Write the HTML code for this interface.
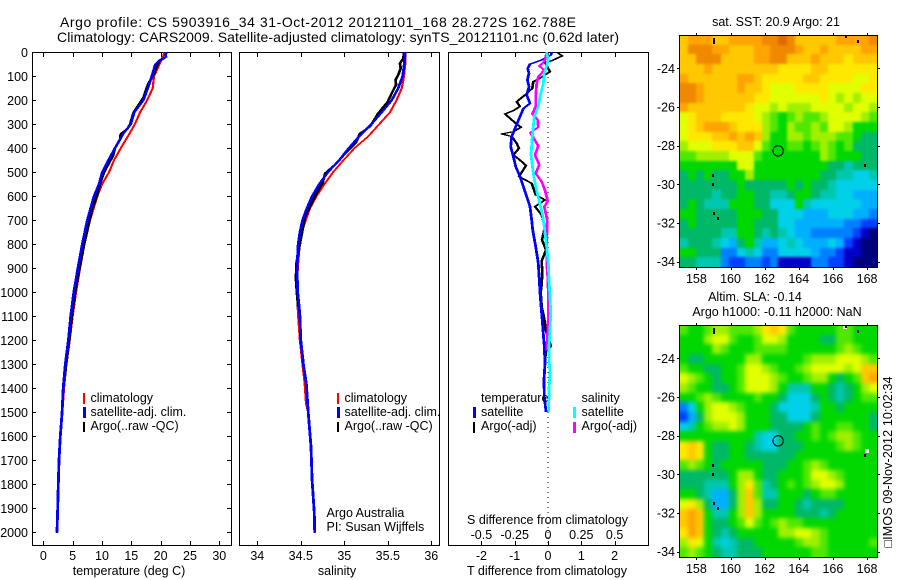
<!DOCTYPE html>
<html lang="en">
<head>
<meta charset="utf-8">
<title>Argo profile CS 5903916_34</title>
<style>
html,body{margin:0;padding:0;background:#fff;}
svg{display:block;font-family:"Liberation Sans",sans-serif;font-size:12.5px;fill:#000;}
</style>
</head>
<body>
<svg id="chart" width="900" height="580" viewBox="0 0 900 580" xmlns="http://www.w3.org/2000/svg">
  <rect x="0" y="0" width="900" height="580" fill="#fff"/>
  <defs>
    <clipPath id="clip-sst"><rect x="679" y="35" width="198" height="232"/></clipPath>
    <clipPath id="clip-sla"><rect x="679" y="325" width="198" height="232"/></clipPath>
    <filter id="soft-sst" x="-10%" y="-10%" width="120%" height="120%" color-interpolation-filters="sRGB"><feGaussianBlur stdDeviation="1.2"/></filter>
    <filter id="soft-sla" x="-10%" y="-10%" width="120%" height="120%" color-interpolation-filters="sRGB"><feGaussianBlur stdDeviation="2.2"/></filter>
  </defs>
  <text x="60" y="27" font-size="14" textLength="516" lengthAdjust="spacing">Argo profile: CS 5903916_34 31-Oct-2012 20121101_168 28.272S 162.788E</text>
  <text x="57" y="42" font-size="14" textLength="562" lengthAdjust="spacing">Climatology: CARS2009. Satellite-adjusted climatology: synTS_20121101.nc (0.62d later)</text>

  <g id="marks"></g>

  <text x="129" y="575" text-anchor="middle">temperature (deg C)</text>
  <text x="337" y="575" text-anchor="middle">salinity</text>
  <text x="547.5" y="524" text-anchor="middle">S difference from climatology</text>
  <text x="547" y="575" text-anchor="middle">T difference from climatology</text>

  <g>
    <rect x="83" y="393" width="2" height="11" fill="#f00"/>
    <rect x="83" y="407" width="3" height="11" fill="#00f"/>
    <rect x="83" y="422" width="2" height="10" fill="#000"/>
    <text x="90.5" y="402">climatology</text>
    <text x="90.5" y="416">satellite-adj. clim.</text>
    <text x="90.5" y="430">Argo(..raw -QC)</text>
  </g>
  <g>
    <rect x="337" y="393" width="2" height="11" fill="#f00"/>
    <rect x="337" y="407" width="3" height="11" fill="#00f"/>
    <rect x="337" y="422" width="2" height="10" fill="#000"/>
    <text x="344.5" y="402">climatology</text>
    <text x="344.5" y="416">satellite-adj. clim.</text>
    <text x="344.5" y="430">Argo(..raw -QC)</text>
    <text x="326.5" y="517">Argo Australia</text>
    <text x="326.5" y="531">PI: Susan Wijffels</text>
  </g>
  <g>
    <text x="481" y="402">temperature</text>
    <text x="581.5" y="402">salinity</text>
    <rect x="473" y="407" width="3" height="11" fill="#00f"/>
    <rect x="473" y="422" width="2" height="11" fill="#000"/>
    <rect x="573" y="407" width="3" height="11" fill="#0ff"/>
    <rect x="573" y="422" width="3" height="11" fill="#f0f"/>
    <text x="481" y="416">satellite</text>
    <text x="481" y="430">Argo(-adj)</text>
    <text x="581.5" y="416">satellite</text>
    <text x="581.5" y="430">Argo(-adj)</text>
  </g>

  <text x="776" y="26" text-anchor="middle">sat. SST: 20.9 Argo: 21</text>
  <text x="755" y="301" text-anchor="middle">Altim. SLA: -0.14</text>
  <text x="777" y="316" text-anchor="middle">Argo h1000: -0.11 h2000: NaN</text>
  <text transform="translate(892,547.5) rotate(-90)" textLength="171" lengthAdjust="spacing">□IMOS 09-Nov-2012 10:02:34</text>
</svg>
<script>
// ---------- chart data ----------
const depthTicks = [0,100,200,300,400,500,600,700,800,900,1000,1100,1200,1300,1400,1500,1600,1700,1800,1900,2000];
const tempTicks = [0,5,10,15,20,25,30];
const salinityTicks = [34,34.5,35,35.5,36];
const salinityTickLabels = ['34','34.5','35','35.5','36'];
const tDiffTicks = [-2,-1,0,1,2];
const tDiffTickLabels = ['-2','-1','0','1','2'];
const sDiffTicks = [-0.5,-0.25,0,0.25,0.5];
const sDiffTickLabels = ['-0.5','-0.25','0','0.25','0.5'];
const lonTicks = [158,160,162,164,166,168];
const latTicks = [-24,-26,-28,-30,-32,-34];

const tempClimDepth = [0,50,100,150,200,250,300,340,400,450,500,550,600,700,800,900,1000,1100,1200,1300,1400,1500,1600,1700,1800,1900,2000];
const tempClimValue = [20.7,19.8,18.87,18.65,17.7,16.5,15.6,14.66,13.2,12.05,11.2,10.0,9.2,7.96,7.0,6.25,5.57,5.0,4.5,3.93,3.53,3.24,2.92,2.7,2.56,2.45,2.33];
const tempSatDepth = [0,20,30,50,100,150,200,250,300,340,400,450,500,550,600,700,800,900,1000,1100,1200,1300,1400,1500,1600,1700,1800,1900,2000];
const tempSatValue = [20.91,20.85,20.0,19.1,18.5,17.8,17.05,15.5,14.9,13.6,12.2,11.1,10.05,9.5,8.65,7.5,6.65,5.9,5.2,4.67,4.27,3.75,3.4,3.2,2.9,2.68,2.56,2.45,2.33];
const tempArgoDepth = [0,20,40,100,130,190,210,250,300,320,340,360,400,430,500,550,600,650,700,800,900,1000,1100,1200,1300,1350];
const tempArgoValue = [20.85,20.9,19.65,18.65,17.9,17.05,16.5,15.4,14.8,14.3,13.2,13.15,12.2,11.9,10.35,9.65,9.1,8.35,7.85,6.95,6.15,5.4,4.85,4.4,3.87,3.65];

const salClimDepth = [0,50,100,150,200,250,300,350,400,450,500,550,600,650,700,750,800,900,1000,1060,1100,1200,1300,1379,1462,1500];
const salClimValue = [35.70,35.70,35.686,35.66,35.60,35.525,35.40,35.276,35.115,34.99,34.87,34.77,34.68,34.606,34.556,34.51,34.487,34.464,34.46,34.464,34.47,34.49,34.52,34.545,34.56,34.585];
const salSatDepth = [0,50,100,150,200,250,300,350,400,450,500,550,600,650,700,750,800,900,1000,1060,1100,1200,1300,1379,1504,1643,1782,1921,2000];
const salSatValue = [35.70,35.69,35.67,35.62,35.545,35.43,35.31,35.17,35.05,34.94,34.81,34.71,34.63,34.57,34.52,34.49,34.47,34.456,34.464,34.48,34.49,34.50,34.53,34.563,34.586,34.617,34.63,34.655,34.66];
const salArgoDepth = [0,25,46,67,94,115,136,171,206,254,310,338,379,421,463,504,546,588,629,685,740,810,879,942,1004,1060];
const salArgoValue = [35.69,35.678,35.64,35.648,35.62,35.59,35.594,35.545,35.5,35.39,35.295,35.18,35.13,35.01,34.91,34.78,34.75,34.68,34.625,34.55,34.52,34.483,34.45,34.445,34.456,34.47];

const dTSatDepth = [0,11,32,49,67,88,115,143,178,213,234,268,310,351,393,435,476,518,560,601,643,699,740,810,879,949,1018,1088,1157,1226,1296,1365,1435,1497];
const dTSatValue = [0.11,0.09,-0.19,-0.54,-0.61,-0.57,-0.62,-0.57,-0.64,-0.54,-0.74,-0.84,-0.97,-1.09,-1.12,-1.04,-0.97,-0.84,-0.74,-0.64,-0.54,-0.49,-0.46,-0.37,-0.29,-0.26,-0.23,-0.19,-0.15,-0.11,-0.09,-0.12,-0.11,-0.06];
const dTArgoDepth = [4,15,35,43,81,108,122,150,178,206,226,243,257,275,296,312,331,340,351,379,400,428,449,472,518,546,594,615,643,678,726,782,823,870,918,967,1000,1060,1109,1157,1226,1246,1300];
const dTArgoValue = [0.31,0.43,0.11,-0.09,0.06,-0.24,-0.44,-0.47,-0.69,-0.94,-0.84,-1.04,-1.29,-1.14,-0.97,-0.81,-1.04,-1.39,-1.09,-0.94,-0.87,-1.04,-0.84,-0.66,-0.87,-0.49,-0.37,-0.09,-0.39,-0.19,-0.09,-0.18,-0.06,-0.19,-0.17,-0.19,-0.22,-0.19,-0.11,-0.07,0.09,-0.07,-0.09];
const dSArgoDepth = [4,39,57,74,102,129,185,226,257,282,312,335,390,428,469,504,539,574,619,644,699,782,879,949,1018,1100,1143,1240];
const dSArgoValue = [-0.01,-0.0275,-0.065,-0.0275,-0.0725,-0.085,-0.0925,-0.0925,-0.1175,-0.0775,-0.0725,-0.1325,-0.0725,-0.0975,-0.065,-0.0925,-0.0475,-0.0225,-0.0025,-0.0275,-0.005,-0.01,-0.01,0,0.0025,0.002,0,-0.01];
const dSSatDepth = [0,32,88,129,185,226,268,351,428,504,560,622,671,726,782,810,879,949,1018,1088,1157,1226,1296,1338,1407,1497];
const dSSatValue = [-0.01,0.0025,-0.0275,-0.035,-0.06,-0.0725,-0.1025,-0.1175,-0.1275,-0.11,-0.0925,-0.065,-0.0425,-0.0275,-0.0175,-0.01,0.0025,0.0075,0.015,0.02,0.015,0.0075,0.01,0.015,0.0075,0.005];

// map values are colour-bar levels (0 = navy ... 16 = deep orange)
const sstLevels = [
[13,14,14,14,13,13,14,14,14,14,15,15,16,15,13,13,13,13,13,14,14,14,14,15],
[13,15,15,15,14,14,13,13,13,14,14,15,15,15,14,13,13,14,13,13,13,13,14,14],
[13,13,15,15,15,13,13,13,13,14,14,15,15,13,13,13,14,13,13,13,12,13,13,13],
[13,13,13,14,13,13,13,13,13,13,13,13,12,12,12,12,13,13,12,12,12,12,12,12],
[14,13,13,13,13,13,13,14,14,13,12,12,12,12,12,13,13,12,12,12,12,11,11,12],
[15,15,14,13,13,13,13,14,13,13,12,11,11,11,12,12,12,12,11,11,11,11,12,12],
[15,15,14,13,13,13,13,13,13,12,12,11,11,11,11,11,11,12,11,10,11,10,11,11],
[14,13,13,13,13,13,13,13,12,11,11,10,11,10,10,10,11,11,11,11,10,11,11,10],
[11,12,13,13,13,12,12,12,12,11,10,9,8,9,10,9,9,10,11,11,11,11,10,9],
[11,12,13,14,14,14,13,12,12,12,10,9,8,10,9,9,10,9,11,11,10,8,8,8],
[11,12,12,12,13,13,14,13,14,13,10,8,8,10,10,9,10,10,10,9,9,8,7,7],
[10,11,11,11,12,12,12,13,13,11,9,8,8,9,9,8,9,10,9,8,9,7,7,7],
[9,9,10,10,10,10,11,11,11,9,8,8,8,8,8,8,8,10,9,8,8,8,7,7],
[8,8,8,8,8,8,8,11,11,8,8,8,8,8,8,8,8,8,7,7,6,7,7,7],
[7,8,7,8,7,7,8,8,10,8,8,8,8,8,8,8,8,7,7,6,6,5,5,6],
[7,7,7,7,7,7,7,8,7,7,7,7,7,8,7,8,7,7,6,5,5,5,5,5],
[7,7,7,7,6,7,7,8,8,7,7,6,6,7,8,8,7,6,6,5,5,4,4,4],
[7,8,7,6,6,6,8,8,8,7,7,5,5,5,8,6,5,5,5,5,5,5,4,4],
[8,8,7,7,7,7,7,8,8,8,7,7,5,5,5,4,4,4,5,5,5,4,4,3],
[7,8,7,7,7,7,7,8,8,7,7,7,5,5,4,4,4,4,4,4,3,3,2,2],
[7,7,7,7,7,6,6,8,8,7,6,7,6,5,4,4,3,3,3,3,3,2,1,0],
[6,7,7,7,6,5,4,7,8,6,4,4,5,6,5,4,4,4,5,4,2,1,0,0],
[8,8,7,7,7,3,3,5,6,5,3,3,5,5,5,5,4,3,3,2,1,1,0,0],
[7,7,6,6,6,3,2,2,3,3,2,3,1,1,1,1,3,3,2,2,1,0,0,0]
];
const slaLevels = [
[9,8,8,9,10,10,9,9,9,10,12,13,12,9,8,8,8,8,8,9,9,8,8,8],
[8,8,8,10,11,11,9,8,8,9,11,11,10,8,8,8,8,7,7,9,9,8,8,8],
[8,8,8,8,10,9,8,8,8,9,9,9,9,8,8,8,8,8,8,9,10,9,8,8],
[8,7,7,8,8,8,8,8,10,10,8,8,8,8,8,9,10,10,10,11,11,11,10,9],
[9,8,8,7,7,8,8,9,11,11,10,9,8,8,9,10,11,11,11,11,10,11,13,13],
[11,10,9,8,7,8,8,9,11,11,11,10,9,8,8,9,10,10,8,7,8,9,13,14],
[10,9,8,8,7,7,8,9,11,11,11,10,8,6,6,6,8,8,7,6,7,8,10,11],
[8,8,9,10,9,8,8,8,8,9,8,8,7,5,5,5,7,8,7,6,7,8,9,9],
[3,5,8,10,11,11,10,9,8,8,8,7,5,5,5,5,6,8,8,7,8,8,8,8],
[2,4,7,10,11,11,11,10,8,8,8,7,7,5,5,5,7,8,8,8,8,8,8,7],
[5,6,8,9,10,10,11,10,8,8,8,7,7,7,7,8,9,8,8,9,9,8,8,7],
[8,8,8,8,8,8,8,8,8,6,5,5,7,7,8,8,9,8,9,10,10,9,8,8],
[12,13,12,8,7,7,8,8,7,6,5,5,7,7,7,8,8,8,8,9,10,9,8,8],
[12,13,12,8,7,7,8,8,7,7,7,7,7,7,8,8,8,8,8,8,8,8,8,8],
[9,10,9,8,7,8,8,8,8,8,7,7,7,8,8,9,10,9,8,8,8,8,8,8],
[7,7,7,7,7,7,8,10,10,8,7,7,8,8,8,9,11,11,10,9,8,8,8,8],
[7,7,7,6,6,6,8,10,12,9,6,7,8,9,8,9,10,11,11,10,8,8,8,8],
[8,8,7,6,4,4,7,10,13,9,6,6,8,8,8,7,8,9,9,8,8,8,8,8],
[11,12,10,7,4,4,7,10,13,10,7,7,8,8,7,6,7,7,7,7,8,8,8,8],
[13,14,13,8,6,6,8,10,13,10,8,8,8,8,7,7,7,6,7,8,8,8,8,8],
[13,14,13,8,7,7,8,9,11,9,8,9,10,9,9,8,8,8,8,8,8,8,8,8],
[12,14,13,8,7,6,7,8,8,8,8,8,10,10,11,11,10,9,8,8,8,8,8,8],
[10,12,11,8,6,5,6,7,7,8,8,8,8,8,9,10,10,9,8,8,8,8,8,9],
[9,10,9,8,7,6,6,7,7,7,8,8,8,8,8,8,9,9,8,8,8,8,8,8]
];
const islandLon = [159.03,166.55,166.75,166.95,167.45,167.9,159.0,159.0,159.03,159.25];
const islandLat = [-22.55,-22.3,-22.38,-22.3,-22.65,-29.05,-29.55,-30.05,-31.55,-31.8];
const missingLon = [166.72,167.98];
const missingLat = [-22.4,-28.8];
const floatLon = 162.788;
const floatLat = -28.272;

// ---------- colour bar ----------
const colourBar = ['#00007f','#0000c8','#0040ff','#0080ff','#00b0ff','#00d0e8','#00c8b0','#00b868','#00d800','#50e800','#a0f000','#e0ff00','#ffe800','#ffc800','#ffa400','#f08800','#e06800'];

// ---------- axis functions ----------
const depthY = d => 52.3 + 0.24 * d;
const tempX = t => 43.3 + 5.867 * t;
const salX = s => 257.3 + 87 * (s - 34);
const dTX = v => 548 + 33.3 * v;
const dSX = v => 548 + 133.2 * v;
const lonX = lon => 679.3 + (lon - 157) * (198 / 11.6);
const latY = (lat, top) => top + (-22.28 - lat) * (232 / 12);

const NS = 'http://www.w3.org/2000/svg';
const root = document.getElementById('marks');
function make(tag, attrs, parent) {
  const n = document.createElementNS(NS, tag);
  for (const k in attrs) n.setAttribute(k, attrs[k]);
  (parent || root).appendChild(n);
  return n;
}
function addLabel(txt, x, y, anchor, parent, name) {
  const el = make('text', {x: x, y: y, 'text-anchor': anchor}, parent);
  el.textContent = txt;
  
  
  return el;
}
function addTick(x1, y1, x2, y2, parent) {
  const el = make('line', {x1: x1, y1: y1, x2: x2, y2: y2, stroke: '#000', 'stroke-width': 1, 'shape-rendering': 'crispEdges'}, parent);
  
  
}
// The source plot draws with a pen wider than it is tall: steep runs look thick, slanted runs thin.
function addProfile(depths, values, xFn, colour, penWidth, name, parent) {
  const left = depths.map((d, i) => (xFn(values[i]) - penWidth / 2).toFixed(1) + ',' + depthY(d).toFixed(1));
  const right = depths.map((d, i) => (xFn(values[i]) + penWidth / 2).toFixed(1) + ',' + depthY(d).toFixed(1)).reverse();
  const el = make('polygon', {points: left.concat(right).join(' '), fill: colour, stroke: colour, 'stroke-width': 1, 'stroke-linejoin': 'round', 'shape-rendering': 'crispEdges'}, parent);
  
  
}
function addFrame(x, y, w, h, name, parent) {
  const el = make('rect', {x: x + 0.5, y: y + 0.5, width: w, height: h, fill: 'none', stroke: '#000', 'stroke-width': 1, 'shape-rendering': 'crispEdges'}, parent);
  
  
}
function addPanel(name, left, right, xTicks, xFn, xLabels, yTicksOn) {
  const g = make('g', {});
  
  
  addFrame(left, 52, right - left, 493, name + '-frame', g);
  xTicks.forEach((t, i) => {
    const x = Math.round(xFn(t)) + 0.5;
    addTick(x, 52, x, 57, g);
    addTick(x, 541, x, 545, g);
    addLabel(xLabels[i], xFn(t), 560, 'middle', g, name + '-x-tick-label');
  });
  if (yTicksOn) {
    depthTicks.forEach(d => {
      const y = Math.round(depthY(d)) + 0.5;
      addTick(left, y, left + 4, y, g);
      addTick(right - 4, y, right, y, g);
      addLabel(String(d), left - 4, depthY(d) + 4.5, 'end', g, 'depth-tick-label');
    });
  }
  return g;
}

// ---------- profile panels ----------
const tempPanel = addPanel('temperature-panel', 32, 231, tempTicks, tempX, tempTicks.map(String), true);
addProfile(tempClimDepth, tempClimValue, tempX, '#f00', 1.2, 'temperature-climatology-line', tempPanel);
addProfile(tempArgoDepth, tempArgoValue, tempX, '#000', 1.8, 'temperature-argo-line', tempPanel);
addProfile(tempSatDepth, tempSatValue, tempX, '#00f', 1.8, 'temperature-satellite-line', tempPanel);

const salPanel = addPanel('salinity-panel', 239, 439, salinityTicks, salX, salinityTickLabels, false);
addProfile(salClimDepth, salClimValue, salX, '#f00', 1.2, 'salinity-climatology-line', salPanel);
addProfile(salArgoDepth, salArgoValue, salX, '#000', 1.8, 'salinity-argo-line', salPanel);
addProfile(salSatDepth, salSatValue, salX, '#00f', 1.8, 'salinity-satellite-line', salPanel);

const diffPanel = addPanel('difference-panel', 448, 648, tDiffTicks, dTX, tDiffTickLabels, false);
sDiffTicks.forEach((s, i) => {
  addLabel(sDiffTickLabels[i], dSX(s), 539, 'middle', diffPanel, 's-difference-tick-label');
});
const zeroLine = make('line', {x1: 548, y1: 52, x2: 548, y2: 545, stroke: '#000', 'stroke-width': 1, 'stroke-dasharray': '1 4', 'shape-rendering': 'crispEdges'}, diffPanel);


addProfile(dTArgoDepth, dTArgoValue, dTX, '#000', 1.6, 't-difference-argo-line', diffPanel);
addProfile(dTSatDepth, dTSatValue, dTX, '#00f', 1.8, 't-difference-satellite-line', diffPanel);
addProfile(dSArgoDepth, dSArgoValue, dSX, '#f0f', 1.8, 's-difference-argo-line', diffPanel);
addProfile(dSSatDepth, dSSatValue, dSX, '#0ff', 1.8, 's-difference-satellite-line', diffPanel);

// ---------- maps ----------
function addMap(name, levels, top, clipId, softId) {
  const g = make('g', {});
  
  
  const clipped = make('g', {'clip-path': 'url(#' + clipId + ')'}, g);
  const cells = make('g', {filter: 'url(#' + softId + ')'}, clipped);
  const nRows = levels.length;
  levels.forEach((row, r) => {
    const nCols = row.length;
    row.forEach((v, c) => {
      const lon0 = 157 + 11.6 * c / nCols, lon1 = 157 + 11.6 * (c + 1) / nCols;
      const lat0 = -22.28 - 12 * r / nRows, lat1 = -22.28 - 12 * (r + 1) / nRows;
      // edge cells run past the clip so smoothing does not fade at the frame
      const x0 = Math.round(lonX(lon0)) - (c === 0 ? 14 : 0), x1 = Math.round(lonX(lon1)) + (c === nCols - 1 ? 14 : 0);
      const y0 = Math.round(latY(lat0, top)) - (r === 0 ? 14 : 0), y1 = Math.round(latY(lat1, top)) + (r === nRows - 1 ? 14 : 0);
      const idx = Math.max(0, Math.min(colourBar.length - 1, Math.round(v)));
      const cell = make('rect', {x: x0, y: y0, width: x1 - x0, height: y1 - y0, fill: colourBar[idx], 'shape-rendering': 'crispEdges'}, cells);
      
      
    });
  });
  if (name === 'sla-map') {
    missingLon.forEach((lon, i) => {
      const gap = make('rect', {x: Math.round(lonX(lon)) - 2, y: Math.round(latY(missingLat[i], top)) - 2, width: 4, height: 4, fill: '#fff', 'shape-rendering': 'crispEdges'}, clipped);
      
      
    });
  }
  islandLon.forEach((lon, i) => {
    const isl = make('rect', {x: Math.round(lonX(lon)) - 1, y: Math.round(latY(islandLat[i], top)) - 2, width: 2, height: i === 0 ? 6 : 3, fill: '#000', 'shape-rendering': 'crispEdges'}, clipped);
    
    
  });
  addFrame(679, top, 198, 232, name + '-frame', g);
  lonTicks.forEach(lon => {
    const x = Math.round(lonX(lon)) + 0.5;
    addTick(x, top - 2, x, top, g);
    addTick(x, top + 232, x, top + 235, g);
    addLabel(String(lon), lonX(lon), top + 248, 'middle', g, 'longitude-tick-label');
  });
  latTicks.forEach(lat => {
    const y = Math.round(latY(lat, top)) + 0.5;
    addTick(677, y, 679, y, g);
    addTick(877, y, 880, y, g);
    addLabel(String(lat), 675, latY(lat, top) + 4.5, 'end', g, 'latitude-tick-label');
  });
  const marker = make('circle', {cx: lonX(floatLon), cy: latY(floatLat, top), r: 5.2, fill: 'none', stroke: '#000', 'stroke-width': 1}, g);
  
  
}
addMap('sst-map', sstLevels, 35, 'clip-sst', 'soft-sst');
addMap('sla-map', slaLevels, 325, 'clip-sla', 'soft-sla');
</script>
</body>
</html>
